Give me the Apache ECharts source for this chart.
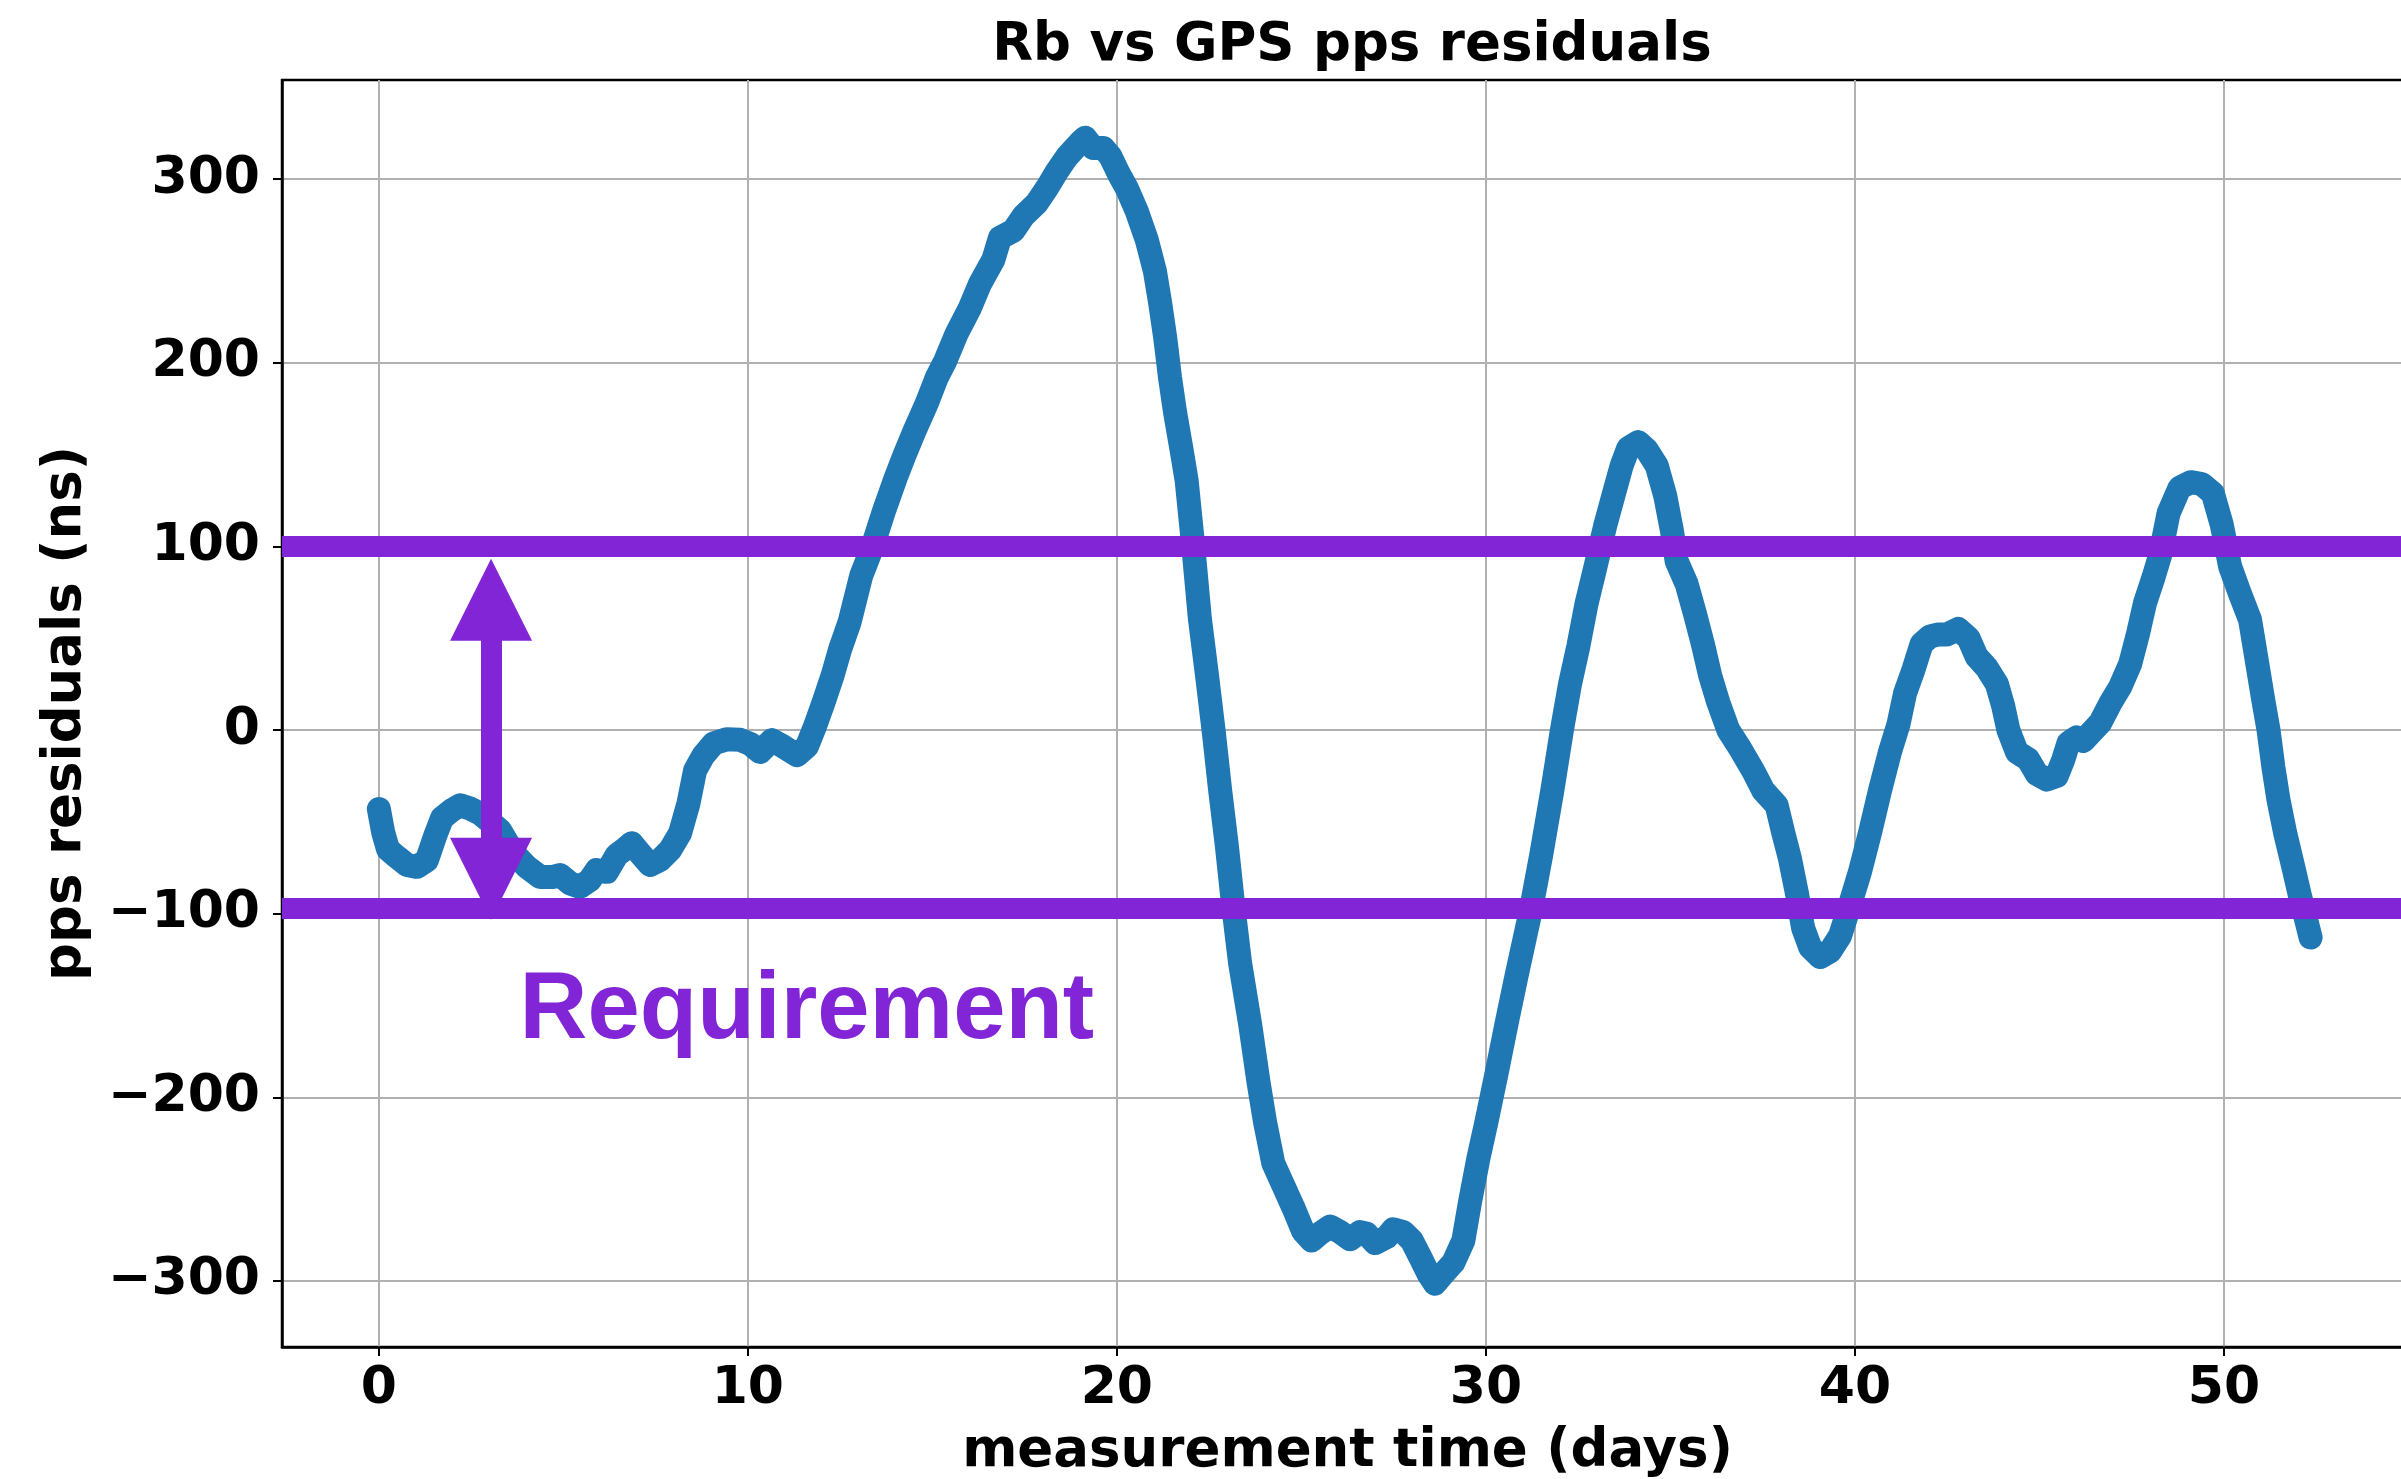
<!DOCTYPE html>
<html>
<head>
<meta charset="utf-8">
<title>Rb vs GPS pps residuals</title>
<script src="https://cdn.jsdelivr.net/npm/echarts@6/dist/echarts.min.js"></script>
<style>
  html, body { margin: 0; padding: 0; background: #ffffff; }
  #chart { width: 2401px; height: 1479px; }
</style>
</head>
<body>
<div id="chart"></div>
<script>
// Measurement time in days
const days = [
  0.00, 0.12, 0.25, 0.48, 0.76, 1.03, 1.30, 1.52, 1.71, 1.98, 2.20, 2.47, 2.74, 3.28, 3.65, 4.01,
  4.37, 4.73, 4.91, 5.18, 5.45, 5.72, 5.90, 6.18, 6.45, 6.63, 6.85, 7.08, 7.35, 7.62, 7.89, 8.16,
  8.39, 8.57, 8.79, 9.07, 9.43, 9.79, 10.06, 10.33, 10.65, 10.96, 11.33, 11.60, 11.82, 12.05, 12.30, 12.50,
  12.76, 13.07, 13.38, 13.70, 14.00, 14.25, 14.52, 14.85, 15.12, 15.35, 15.66, 16.02, 16.29, 16.65, 16.83, 17.20,
  17.47, 17.83, 18.10, 18.37, 18.64, 19.00, 19.14, 19.36, 19.63, 19.82, 20.05, 20.27, 20.54, 20.81, 21.03, 21.17,
  21.31, 21.44, 21.58, 21.75, 21.89, 22.07, 22.25, 22.44, 22.62, 22.80, 22.98, 23.16, 23.34, 23.61, 23.84, 24.02,
  24.24, 24.51, 24.78, 25.05, 25.28, 25.51, 25.78, 26.05, 26.32, 26.59, 26.77, 27.00, 27.31, 27.49, 27.76, 27.99,
  28.22, 28.44, 28.62, 28.85, 29.12, 29.39, 29.57, 29.80, 30.02, 30.30, 30.57, 30.84, 31.22, 31.50, 31.80, 32.06,
  32.28, 32.51, 32.73, 32.96, 33.23, 33.46, 33.68, 33.86, 34.13, 34.36, 34.63, 34.86, 35.04, 35.17, 35.44, 35.67,
  35.89, 36.08, 36.30, 36.57, 36.89, 37.25, 37.52, 37.88, 38.06, 38.24, 38.43, 38.60, 38.79, 39.06, 39.33, 39.60,
  39.87, 40.14, 40.41, 40.68, 40.95, 41.18, 41.36, 41.59, 41.81, 42.04, 42.26, 42.49, 42.80, 43.08, 43.30, 43.57,
  43.85, 44.02, 44.16, 44.39, 44.70, 44.93, 45.20, 45.47, 45.65, 45.79, 46.01, 46.19, 46.37, 46.65, 46.92, 47.19,
  47.46, 47.68, 47.86, 48.09, 48.27, 48.50, 48.80, 49.10, 49.40, 49.70, 49.94, 50.17, 50.44, 50.71, 50.89, 51.07,
  51.21, 51.34, 51.48, 51.66, 51.88, 52.07, 52.25, 52.35
];

// pps residuals in ns
const residuals = [
  -43, -56, -65, -69, -73.5, -74.5, -71, -58, -48, -43.6, -41, -42.7, -45.4, -54.5, -67, -74.5,
  -80, -80, -79, -83.5, -85.4, -81.7, -76.3, -77.2, -68, -65.4, -61.7, -67.2, -73.5, -70.8, -65.4, -56.3,
  -40, -22, -14, -7.3, -5, -5.3, -7.5, -12, -5.5, -9, -13.7, -9, 2, 15, 30, 44,
  59, 84, 100, 120, 137, 150, 163, 178, 192, 201, 216, 230, 243, 256, 268, 272,
  280, 287, 295, 304, 312, 320, 322.5, 317, 317, 312.6, 303, 295, 282.5, 267, 250, 233,
  213.6, 192, 172.7, 153, 136, 100, 60.6, 30.3, 0, -33, -63, -97, -127, -160, -192, -214,
  -236, -248, -260, -273, -278, -274, -270.4, -273.4, -277.3, -273.4, -274.3, -279.4, -276.2, -271.9, -273.4, -277.9,
  -287, -296, -301.5, -296, -290, -278, -257, -233, -213, -186, -159, -133, -98, -68, -33, 0,
  25, 46, 69, 88, 111, 128, 144, 153.6, 156.8, 152.6, 144, 127.6, 108.8, 92, 79.6, 63,
  46, 29.6, 15, 0, -10, -22.5, -33, -41, -56, -70, -89, -108, -118.4, -123.6, -120.5, -112,
  -95, -77, -56, -33, -12, 3, 20, 33, 47, 51, 52, 52, 55, 50, 40, 34,
  25, 13, 0, -12, -16, -24, -27, -25, -16, -7, -4, -6, -2, 4, 14.5, 23.5,
  36, 53, 69, 83, 95, 118, 132, 135, 134, 129, 112, 89, 74, 60, 38, 16,
  0, -20, -38, -56, -74.5, -91, -105, -113
];

// Tick values on both axes
const xTicks = [0, 10, 20, 30, 40, 50];
const yTicks = [-300, -200, -100, 0, 100, 200, 300];

// Requirement band (ns) and its annotation
const requirementLevels = [100, -97];
const arrowDay = 3.04;
const arrowEnds = [71, -81];
const noteLabel = 'Requirement';
const noteAt = [3.8, -153.6];

const LABEL_FONT = 'DejaVu Sans';
const PURPLE = '#8225d6';
const BLUE = '#1f77b4';

const fmtNum = v => (v < 0 ? '\u2212' + Math.abs(v) : String(v));

const chart = echarts.init(document.getElementById('chart'), null, { renderer: 'canvas' });

const option = {
  animation: false,
  backgroundColor: '#ffffff',
  title: {
    text: 'Rb vs GPS pps residuals',
    left: 1347,
    textAlign: 'center',
    top: 15,
    textStyle: { fontFamily: LABEL_FONT, fontWeight: 'bold', fontSize: 53, color: '#000' }
  },
  grid: {
    left: 282,
    top: 80,
    width: 2131,
    height: 1267,
    show: true,
    borderColor: '#000',
    borderWidth: 2.5,
    backgroundColor: 'transparent',
    outerBoundsMode: 'none'
  },
  xAxis: {
    type: 'value',
    min: -2.625,
    max: 55.125,
    name: 'measurement time (days)',
    nameLocation: 'middle',
    nameGap: 79,
    nameMoveOverlap: false,
    nameTextStyle: { fontFamily: LABEL_FONT, fontWeight: 'bold', fontSize: 53, color: '#000' },
    axisLine: { show: true, onZero: false, lineStyle: { color: '#000', width: 2.5 } },
    axisTick: { show: true, length: 9, lineStyle: { color: '#000', width: 2 }, customValues: xTicks },
    axisLabel: {
      margin: 16,
      customValues: xTicks,
      formatter: fmtNum,
      fontFamily: LABEL_FONT, fontWeight: 'bold', fontSize: 52, color: '#000'
    },
    splitLine: { show: true, lineStyle: { color: '#b0b0b0', width: 2 } }
  },
  yAxis: {
    type: 'value',
    min: -336,
    max: 354,
    name: 'pps residuals (ns)',
    nameLocation: 'middle',
    nameGap: 189,
    nameRotate: 90,
    nameMoveOverlap: false,
    nameTextStyle: { fontFamily: LABEL_FONT, fontWeight: 'bold', fontSize: 53, color: '#000' },
    axisLine: { show: true, onZero: false, lineStyle: { color: '#000', width: 2.5 } },
    axisTick: { show: true, length: 9, lineStyle: { color: '#000', width: 2 }, customValues: yTicks },
    axisLabel: {
      margin: 22,
      customValues: yTicks,
      formatter: fmtNum,
      fontFamily: LABEL_FONT, fontWeight: 'bold', fontSize: 52, color: '#000'
    },
    splitLine: { show: true, lineStyle: { color: '#b0b0b0', width: 2 } }
  },
  series: [
    {
      name: 'pps residuals',
      type: 'line',
      data: days.map((d, i) => [d, residuals[i]]),
      showSymbol: false,
      symbol: 'none',
      smooth: false,
      z: 3,
      lineStyle: { color: BLUE, width: 24, cap: 'round', join: 'round' }
    },
    {
      name: 'requirement',
      type: 'line',
      data: [],
      z: 5,
      markLine: {
        silent: true,
        animation: false,
        symbol: ['none', 'none'],
        label: { show: false },
        lineStyle: { color: PURPLE, width: 21, type: 'solid', opacity: 1 },
        emphasis: { disabled: true },
        data: requirementLevels.map(v => ({ yAxis: v }))
      }
    },
    {
      name: 'requirement span',
      type: 'line',
      data: [],
      z: 6,
      markLine: {
        silent: true,
        animation: false,
        symbol: ['triangle', 'triangle'],
        symbolSize: 82,
        label: { show: false },
        itemStyle: { color: PURPLE },
        lineStyle: { color: PURPLE, width: 21, type: 'solid', opacity: 1 },
        emphasis: { disabled: true },
        data: [[{ coord: [arrowDay, arrowEnds[0]] }, { coord: [arrowDay, arrowEnds[1]] }]]
      },
      markPoint: {
        silent: true,
        animation: false,
        symbol: 'rect',
        symbolSize: 1,
        itemStyle: { color: 'rgba(0,0,0,0)' },
        label: {
          show: true,
          position: 'right',
          distance: 0,
          formatter: noteLabel,
          fontFamily: 'Liberation Sans',
          fontWeight: 'bold',
          fontSize: 94,
          color: PURPLE
        },
        data: [{ coord: noteAt }]
      }
    }
  ]
};

chart.setOption(option);
</script>
</body>
</html>
